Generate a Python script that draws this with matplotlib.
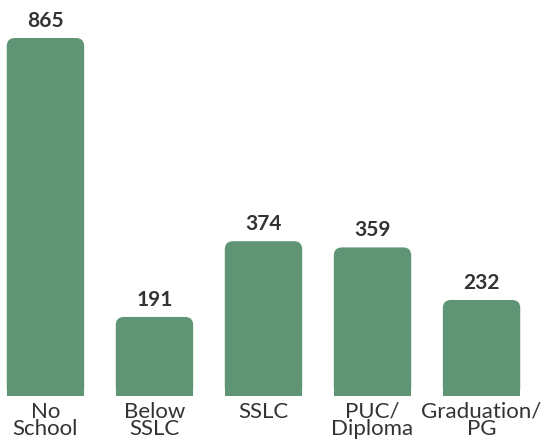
import matplotlib.pyplot as plt
from matplotlib.patches import FancyBboxPatch, Rectangle

categories = ["No\nSchool", "Below\nSSLC", "SSLC", "PUC/\nDiploma", "Graduation/\nPG"]
values = [865, 191, 374, 359, 232]

bar_color = "#5f9474"
plt.rcParams["font.family"] = ["Lato", "DejaVu Sans"]

fig = plt.figure(figsize=(5.44, 4.45), dpi=100)
ax = fig.add_axes([0, 0, 1, 1])
ax.set_xlim(-0.417, 4.573)
ax.set_ylim(-118.4, 956.8)
ax.axis("off")

width = 0.71
bars = ax.bar(range(len(values)), values, width=width, color="none")

# aspect of data units (y per x) so the corners come out round
px_x = 1 / 109
px_y = 865 / 358
aspect = px_y / px_x
r = 0.075

for b, v, cat in zip(bars, values, categories):
    x0, w, h = b.get_x(), b.get_width(), b.get_height()
    ax.add_patch(FancyBboxPatch((x0, 0), w, h,
                                boxstyle=f"round,pad=0,rounding_size={r}",
                                mutation_aspect=aspect,
                                fc=bar_color, ec="none"))
    ax.add_patch(Rectangle((x0, 0), w, h / 2, fc=bar_color, ec="none"))
    ax.annotate(str(v), (x0 + w / 2, h), xytext=(0, 5), textcoords="offset points",
                ha="center", va="bottom", fontsize=15, fontweight="bold",
                color="#333333")
    ax.annotate(cat, (x0 + w / 2, 0), xytext=(0, -4), textcoords="offset points",
                ha="center", va="top", fontsize=16, color="#333333",
                linespacing=0.82)

fig.savefig("out.png", dpi=100)
